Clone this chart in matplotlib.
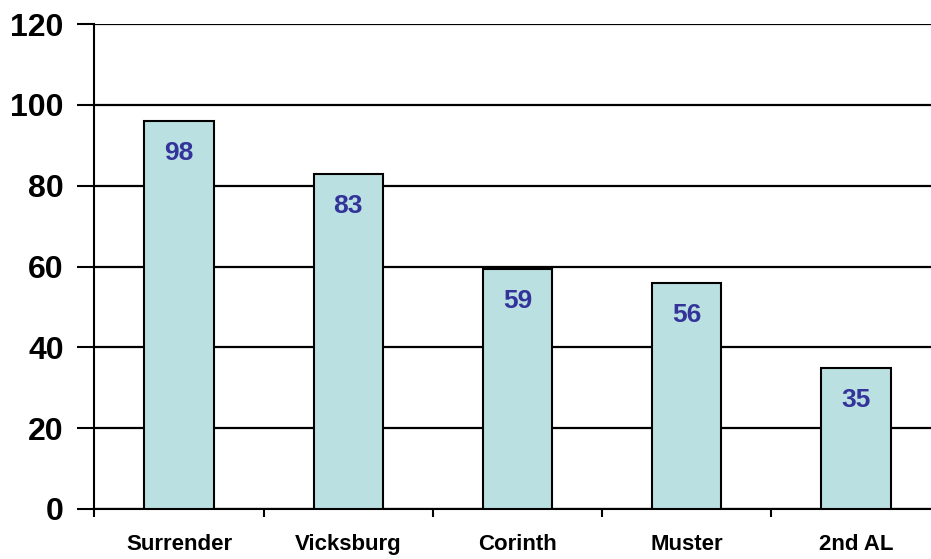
import matplotlib
matplotlib.use("Agg")
import matplotlib.pyplot as plt
from matplotlib.ticker import FixedLocator

categories = ["Surrender", "Vicksburg", "Corinth", "Muster", "2nd AL"]
bar_values = [96, 83, 59.5, 56, 35]
value_labels = ["98", "83", "59", "56", "35"]
y_ticks = [0, 20, 40, 60, 80, 100, 120]

plt.rcParams['font.family'] = ['Liberation Sans', 'DejaVu Sans']

W, H = 931, 559
fig = plt.figure(figsize=(W / 100, H / 100), dpi=100)
left, right = 94.4, 940.6
bottom, top = 509, 24
ax = fig.add_axes([left / W, (H - bottom) / H, (right - left) / W, (bottom - top) / H])

x = list(range(len(categories)))
ax.bar(x, bar_values, width=0.41, color="#BAE0E2", edgecolor="black", linewidth=1.5, zorder=3)
for xi, v, lab in zip(x, bar_values, value_labels):
    ax.annotate(lab, (xi, v), xytext=(0, -32), textcoords="offset pixels",
                ha="center", va="center", fontsize=19, fontweight="bold",
                color="#333399", zorder=4)

ax.set_xlim(-0.5, len(categories) - 0.5)
ax.set_ylim(0, 120)
ax.set_yticks(y_ticks)
ax.set_yticklabels([str(t) for t in y_ticks], fontsize=23, fontweight="bold")
ax.yaxis.grid(True, color="black", linewidth=1.6, zorder=0)
ax.set_axisbelow(True)

ax.set_xticks(x)
ax.set_xticklabels(categories, fontsize=16, fontweight="bold")
ax.xaxis.set_minor_locator(FixedLocator([i - 0.5 for i in range(len(categories) + 1)]))
ax.tick_params(axis="x", which="major", length=0, pad=18)
ax.tick_params(axis="x", which="minor", length=6, width=1.5, direction="out")
ax.tick_params(axis="y", which="major", length=12, width=1.5, pad=10)

for s in ["top", "right"]:
    ax.spines[s].set_visible(False)
ax.spines["left"].set_linewidth(1.5)
ax.spines["bottom"].set_linewidth(1.5)

fig.savefig("out.png", dpi=100)
